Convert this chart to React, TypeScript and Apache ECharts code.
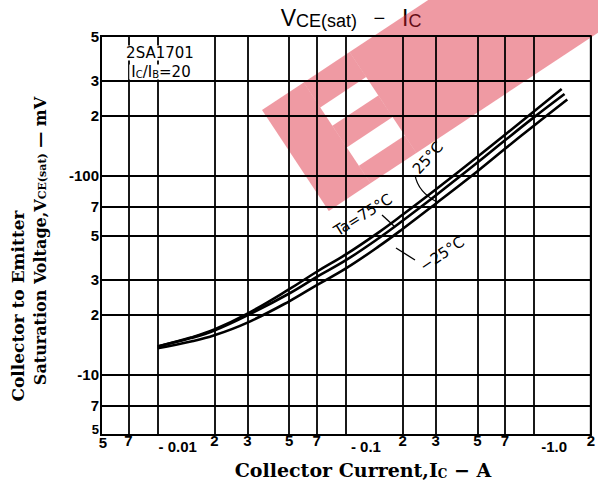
import React, { useEffect, useRef } from "react";
import * as echarts from "echarts";

// Axis ticks and labels
const xTicks = [0.005, 0.007, 0.01, 0.02, 0.03, 0.05, 0.07, 0.1, 0.2, 0.3, 0.5, 0.7, 1, 2];
const xTickLabels = ["5", "7", "- 0.01", "2", "3", "5", "7", "- 0.1", "2", "3", "5", "7", "-1.0", "2"];
const xDecades = [0.01, 0.1, 1];
const yTicks = [5, 7, 10, 20, 30, 50, 70, 100, 200, 300, 500];
const yTickLabels = ["5", "7", "-10", "2", "3", "5", "7", "-100", "2", "3", "5"];

// Series: collector current (A) and VCE(sat) (mV)
const ic75 = [0.01, 0.015, 0.02, 0.03, 0.05, 0.07, 0.1, 0.15, 0.2, 0.3, 0.5, 0.7, 1.0, 1.4];
const v75 = [13.9, 15.4, 16.9, 20.3, 26.9, 32.9, 40.2, 52, 63.5, 85, 124, 160, 210, 271];
const ic25 = [0.01, 0.015, 0.02, 0.03, 0.05, 0.07, 0.1, 0.15, 0.2, 0.3, 0.5, 0.7, 1.0, 1.45];
const v25 = [13.9, 15.3, 16.7, 19.9, 25.6, 31, 37.6, 48.6, 59.3, 79.4, 116, 150, 196, 256];
const icM25 = [0.01, 0.015, 0.02, 0.03, 0.05, 0.07, 0.1, 0.15, 0.2, 0.3, 0.5, 0.7, 1.0, 1.5];
const vM25 = [13.6, 14.7, 15.8, 18.3, 23.4, 28.2, 34.2, 44.2, 53.9, 72.2, 105, 136, 178, 240];

const zip = (xs: number[], ys: number[]) => xs.map((x, i) => [x, ys[i]]);

const findIdx = (arr: number[], v: number) =>
  arr.findIndex((t) => Math.abs(Math.log10(t) - Math.log10(v)) < 1e-4);

export default function App() {
  const ref = useRef<HTMLDivElement>(null);
  useEffect(() => {
    if (!ref.current) return;
    const chart = echarts.init(ref.current, undefined, { renderer: "svg" });
    const gridLine = { show: true, lineStyle: { color: "#000", width: 1.8 } };
    const labelFont = { fontFamily: "Liberation Sans", fontWeight: "bold" as const, fontSize: 15, color: "#000" };
    const serif = "DejaVu Serif";
    const sans = "DejaVu Sans";
    const curve = (name: string, data: number[][]) => ({
      name,
      type: "line",
      data,
      smooth: 0.4,
      symbol: "none",
      lineStyle: { color: "#000", width: 2.6 },
      z: 5,
    });
    const pink = { fill: "#dc1e32", opacity: 0.45 };
    const pinkRect = (x: number, y: number, width: number, height: number) => ({
      type: "rect",
      shape: { x, y, width, height },
      style: pink,
      silent: true,
    });
    chart.setOption({
      animation: false,
      backgroundColor: "#fff",
      grid: { left: 101, right: 1, top: 36, bottom: 51, show: true, borderColor: "#000", borderWidth: 2 },
      xAxis: {
        type: "log",
        logBase: 10,
        min: 0.005,
        max: 2,
        axisLine: { show: true, lineStyle: { color: "#000", width: 2 } },
        axisTick: { show: false, customValues: xTicks },
        splitLine: gridLine,
        minorSplitLine: { show: false },
        axisLabel: {
          customValues: xTicks,
          showMinLabel: true,
          showMaxLabel: true,
          margin: -2,
          ...labelFont,
          formatter: (v: number) => {
            const i = findIdx(xTicks, v);
            if (i < 0) return "";
            const lbl = xTickLabels[i];
            if (findIdx(xDecades, v) >= 0) return `{d|${lbl}}`;
            return i === 0 ? `{f|${lbl}}` : lbl;
          },
          rich: {
            d: { ...labelFont, padding: [6, 0, 0, 40] },
            f: { ...labelFont, padding: [2, 0, 0, 4] },
          },
        },
      },
      yAxis: {
        type: "log",
        logBase: 10,
        min: 5,
        max: 500,
        axisLine: { show: true, lineStyle: { color: "#000", width: 2 } },
        axisTick: { show: false, customValues: yTicks },
        splitLine: gridLine,
        minorSplitLine: { show: false },
        axisLabel: {
          customValues: yTicks,
          showMinLabel: true,
          showMaxLabel: true,
          margin: 2,
          ...labelFont,
          formatter: (v: number) => {
            const i = findIdx(yTicks, v);
            if (i < 0) return "";
            return i === 0 ? `{b|${yTickLabels[i]}}` : yTickLabels[i];
          },
          rich: {
            b: { ...labelFont, fontSize: 13, padding: [0, 0, 12, 0] },
          },
        },
      },
      series: [
        curve("Ta=75°C", zip(ic75, v75)),
        curve("25°C", zip(ic25, v25)),
        curve("-25°C", zip(icM25, vM25)),
      ],
      graphic: [
        {
          type: "text",
          x: 351,
          y: 18,
          style: {
            text: "{v|V}{s|CE(sat)}{m|   −   }{v|I}{s|C}",
            align: "center",
            verticalAlign: "middle",
            fill: "#000",
            rich: {
              v: { fontFamily: "Liberation Sans", fontSize: 23, fill: "#000" },
              s: { fontFamily: "Liberation Sans", fontSize: 18, fill: "#000", verticalAlign: "bottom" },
              m: { fontFamily: "Liberation Sans", fontSize: 20, fill: "#000" },
            },
          },
        },
        {
          type: "text",
          x: 160,
          y: 53,
          z: 10,
          style: {
            text: "2SA1701",
            font: `15px '${sans}'`,
            fill: "#000",
            align: "center",
            verticalAlign: "middle",
            backgroundColor: "#fff",
            padding: [0, 2],
          },
        },
        {
          type: "text",
          x: 161,
          y: 72,
          z: 10,
          style: {
            text: "{n|I}{s|C}{n|/I}{s|B}{n|=20}",
            align: "center",
            verticalAlign: "middle",
            backgroundColor: "#fff",
            padding: [0, 2],
            rich: {
              n: { fontFamily: sans, fontSize: 15, fill: "#000" },
              s: { fontFamily: sans, fontSize: 10, fill: "#000", verticalAlign: "bottom" },
            },
          },
        },
        {
          type: "text",
          x: 18,
          y: 306,
          rotation: Math.PI / 2,
          style: {
            text: "Collector to Emitter",
            font: `bold 17px '${serif}'`,
            fill: "#000",
            align: "center",
            verticalAlign: "middle",
          },
        },
        {
          type: "text",
          x: 40,
          y: 241,
          rotation: Math.PI / 2,
          style: {
            text: "{n|Saturation Voltage,V}{s|CE(sat)}{n| — mV}",
            align: "center",
            verticalAlign: "middle",
            rich: {
              n: { fontFamily: serif, fontWeight: "bold", fontSize: 16, fill: "#000" },
              s: { fontFamily: serif, fontWeight: "bold", fontSize: 11, fill: "#000", verticalAlign: "bottom" },
            },
          },
        },
        {
          type: "text",
          x: 363,
          y: 470,
          style: {
            text: "{n|Collector Current,I}{s|C}{n| − A}",
            align: "center",
            verticalAlign: "middle",
            rich: {
              n: { fontFamily: serif, fontWeight: "bold", fontSize: 19, fill: "#000" },
              s: { fontFamily: serif, fontWeight: "bold", fontSize: 12, fill: "#000", verticalAlign: "bottom" },
            },
          },
        },
        {
          type: "text",
          x: 363,
          y: 215,
          rotation: (32 * Math.PI) / 180,
          z: 10,
          style: { text: "Ta=75°C", font: `15px '${sans}'`, fill: "#000", align: "center", verticalAlign: "middle" },
        },
        {
          type: "text",
          x: 428,
          y: 158,
          rotation: (48 * Math.PI) / 180,
          z: 10,
          style: { text: "25°C", font: `15px '${sans}'`, fill: "#000", align: "center", verticalAlign: "middle" },
        },
        {
          type: "text",
          x: 442,
          y: 254,
          rotation: (34 * Math.PI) / 180,
          z: 10,
          style: { text: "−25°C", font: `15px '${sans}'`, fill: "#000", align: "center", verticalAlign: "middle" },
        },
        {
          type: "line",
          z: 10,
          shape: { x1: 382, y1: 215, x2: 394, y2: 226 },
          style: { stroke: "#000", lineWidth: 1.3 },
        },
        {
          type: "bezierCurve",
          z: 10,
          shape: { x1: 415, y1: 175, cpx1: 418, cpy1: 192, x2: 437, y2: 202 },
          style: { stroke: "#000", lineWidth: 1.3, fill: "none" },
        },
        {
          type: "line",
          z: 10,
          shape: { x1: 415, y1: 260, x2: 396, y2: 248 },
          style: { stroke: "#000", lineWidth: 1.3 },
        },
        {
          // translucent watermark band
          type: "group",
          x: 262,
          y: 110,
          rotation: 0.585,
          z: 20,
          silent: true,
          children: [
            pinkRect(0, 0, 50, 121),
            pinkRect(50, 0, 55, 30),
            pinkRect(50, 52, 55, 26),
            pinkRect(50, 100, 55, 21),
            pinkRect(105, 0, 325, 121),
          ],
        },
      ],
    });
    return () => chart.dispose();
  }, []);
  return (
    <div
      ref={ref}
      style={{ position: "fixed", left: 0, top: 0, width: 598, height: 486, background: "#fff" }}
    />
  );
}
